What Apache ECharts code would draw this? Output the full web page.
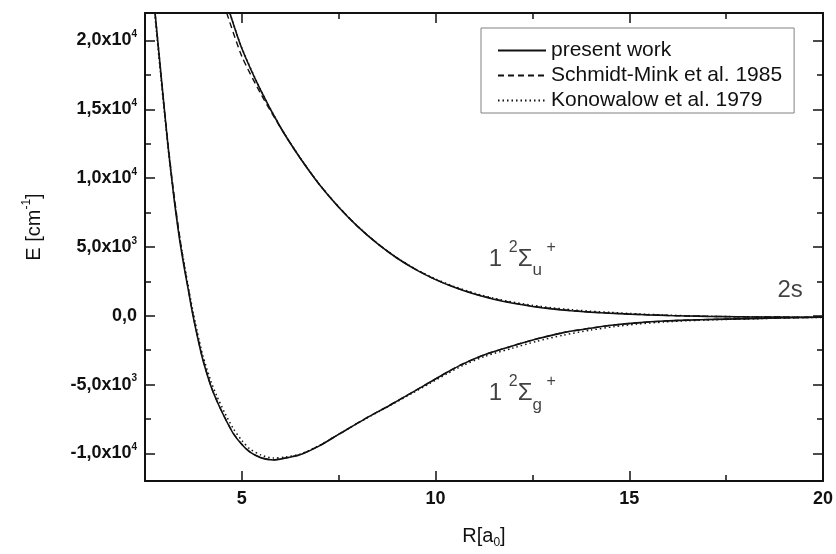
<!DOCTYPE html>
<html><head><meta charset="utf-8">
<script src="https://cdn.jsdelivr.net/npm/echarts@6/dist/echarts.min.js"></script>
<style>html,body{margin:0;padding:0;background:#fff}#c{width:836px;height:554px}</style>
</head><body><div id="c"></div>
<script>
// ---- axes ----
const xMin = 2.5, xMax = 20, yMin = -12000, yMax = 22000;
const xMajorTicks = [5, 10, 15, 20];
const xMinorTicks = [7.5, 12.5, 17.5];
const yMajorTicks = [-10000, -5000, 0, 5000, 10000, 15000, 20000];
const yMinorTicks = [-7500, -2500, 2500, 7500, 12500, 17500];
const yTickMantissa = ['-1,0', '-5,0', '0,0', '5,0', '1,0', '1,5', '2,0'];
const yTickExponent = ['4', '3', '', '3', '4', '4', '4'];

// ---- series names ----
const seriesNames = ['present work', 'Schmidt-Mink et al. 1985', 'Konowalow et al. 1979'];

// ---- present work ----
const R_present_g = [2.76, 2.9, 3.0, 3.1, 3.2, 3.3, 3.4, 3.5, 3.6, 3.74, 3.9, 4.0, 4.2, 4.35, 4.55, 4.78, 5.0, 5.2, 5.5, 5.81, 6.1, 6.5, 7.0, 7.53, 8.2, 8.81, 9.4, 9.85, 10.3, 10.7, 11.3, 12.0, 12.6, 13.3, 14.0, 14.6, 15.2, 15.9, 16.5, 17.2, 18.4, 19.2, 20.0];
const E_present_g = [22000, 17900, 15000, 12200, 9700, 7400, 5400, 3700, 2150, 0, -2100, -3260, -5100, -6150, -7350, -8560, -9350, -9880, -10320, -10470, -10350, -10100, -9450, -8560, -7450, -6510, -5560, -4830, -4100, -3510, -2800, -2180, -1690, -1220, -900, -670, -510, -380, -310, -255, -185, -140, -105];
const R_present_u = [4.69, 5.0, 5.5, 6.0, 6.5, 7.0, 7.5, 8.0, 8.5, 9.0, 9.5, 10.0, 10.5, 11.0, 11.5, 12.0, 12.5, 13.0, 13.5, 14.0, 14.5, 15.0, 15.5, 16.0, 16.5, 17.0, 17.5, 18.0, 19.0, 20.0];
const E_present_u = [22000, 19420, 16300, 13680, 11480, 9540, 7890, 6460, 5240, 4200, 3340, 2630, 2050, 1580, 1205, 910, 680, 505, 370, 268, 192, 125, 72, 28, -8, -38, -58, -73, -92, -105];

// ---- Schmidt-Mink et al. 1985 ----
const R_schmidt_g = [2.76, 2.9, 3.0, 3.1, 3.2, 3.3, 3.4, 3.5, 3.6, 3.74, 3.9, 4.0, 4.2, 4.35, 4.55, 4.78, 5.0, 5.2, 5.5, 5.81, 6.1, 6.5, 7.0, 7.53, 8.2, 8.81, 9.4, 9.85, 10.3, 10.7, 11.3, 12.0, 12.6, 13.3, 14.0, 14.6, 15.2, 15.9, 16.5, 17.2, 18.4, 19.2, 20.0];
const E_schmidt_g = [22000, 17950, 15050, 12350, 9900, 7700, 5650, 3850, 2250, 50, -2050, -3220, -5080, -6130, -7330, -8540, -9330, -9870, -10310, -10460, -10340, -10090, -9440, -8550, -7440, -6500, -5550, -4820, -4090, -3500, -2790, -2170, -1680, -1215, -895, -668, -508, -380, -310, -255, -185, -140, -105];
const R_schmidt_u = [4.61, 5.0, 5.5, 6.0, 6.5, 7.0, 7.5, 8.0, 8.5, 9.0, 9.5, 10.0, 10.5, 11.0, 11.5, 12.0, 12.5, 13.0, 13.5, 14.0, 14.5, 15.0, 15.5, 16.0, 16.5, 17.0, 17.5, 18.0, 19.0, 20.0];
const E_schmidt_u = [22000, 18850, 16070, 13660, 11480, 9550, 7900, 6470, 5250, 4210, 3350, 2640, 2060, 1600, 1230, 940, 700, 520, 380, 275, 195, 125, 72, 28, -8, -38, -58, -73, -92, -105];

// ---- Konowalow et al. 1979 ----
const R_konowalow_g = [2.76, 2.9, 3.0, 3.1, 3.2, 3.3, 3.4, 3.5, 3.6, 3.74, 3.9, 4.0, 4.2, 4.35, 4.55, 4.78, 5.0, 5.2, 5.5, 5.81, 6.1, 6.5, 7.0, 7.53, 8.2, 8.81, 9.4, 9.85, 10.3, 10.7, 11.3, 12.0, 12.6, 13.3, 14.0, 14.6, 15.2, 15.9, 16.5, 17.2, 18.4, 19.2, 20.0];
const E_konowalow_g = [21700, 17600, 14800, 12100, 9700, 7500, 5600, 4000, 2400, 300, -1800, -2950, -4750, -5800, -7000, -8200, -9050, -9650, -10120, -10330, -10270, -10050, -9420, -8560, -7470, -6540, -5620, -4910, -4200, -3620, -2920, -2340, -1860, -1400, -1040, -790, -600, -445, -355, -285, -200, -150, -110];
const R_konowalow_u = [4.69, 5.0, 5.5, 6.0, 6.5, 7.0, 7.5, 8.0, 8.5, 9.0, 9.5, 10.0, 10.5, 11.0, 11.5, 12.0, 12.5, 13.0, 13.5, 14.0, 14.5, 15.0, 15.5, 16.0, 16.5, 17.0, 17.5, 18.0, 19.0, 20.0];
const E_konowalow_u = [22000, 19450, 16320, 13700, 11500, 9560, 7910, 6480, 5260, 4230, 3380, 2680, 2110, 1650, 1280, 990, 765, 585, 445, 335, 250, 170, 105, 50, 5, -30, -55, -72, -92, -105];

// ---- annotations ----
const annotationX = [12.24, 12.24, 19.15];
const annotationY = [4110, -5670, 1840];
const annotationText = [
  '{big|1 }{sup2|2}{big|Σ}{sub2|u}{plus| +}',
  '{big|1 }{sup2|2}{big|Σ}{sub2|g}{plus| +}',
  '{plain|2s}'
];

const FONT = 'Liberation Sans, Arial, Helvetica, sans-serif';
const INK = '#111';
const zip = (xs, ys) => xs.map((x, i) => [x, ys[i]]);

const lineStyles = [
  { color: INK, width: 1.6, type: 'solid' },
  { color: INK, width: 1.4, type: [6, 4] },
  { color: INK, width: 1.5, type: [1.5, 3] }
];
const curves = [
  [R_present_g, E_present_g, R_present_u, E_present_u],
  [R_schmidt_g, E_schmidt_g, R_schmidt_u, E_schmidt_u],
  [R_konowalow_g, E_konowalow_g, R_konowalow_u, E_konowalow_u]
];

const series = [];
for (let k = 0; k < curves.length; k++) {
  const c = curves[k];
  [[c[0], c[1]], [c[2], c[3]]].forEach(pair => {
    series.push({
      name: seriesNames[k], type: 'line', xAxisIndex: 0, yAxisIndex: 0,
      data: zip(pair[0], pair[1]), showSymbol: false, symbol: 'none',
      smooth: 0.25, lineStyle: lineStyles[k], itemStyle: { color: INK },
      z: 5 - k, clip: true, emphasis: { disabled: true }
    });
  });
}
series.push({
  name: 'annotations', type: 'scatter', xAxisIndex: 0, yAxisIndex: 0,
  data: annotationX.map((x, i) => [x, annotationY[i]]),
  symbolSize: 0, silent: true,
  label: {
    show: true, position: 'inside',
    formatter: p => annotationText[p.dataIndex],
    rich: {
      big: { fontSize: 24, fontFamily: FONT, color: INK, lineHeight: 40 },
      sup2: { fontSize: 16, fontFamily: FONT, color: INK, lineHeight: 22, verticalAlign: 'top' },
      sub2: { fontSize: 17, fontFamily: FONT, color: INK, lineHeight: 14, verticalAlign: 'bottom' },
      plus: { fontSize: 16, fontFamily: FONT, color: INK, lineHeight: 12, verticalAlign: 'top' },
      plain: { fontSize: 24, fontFamily: FONT, color: INK, lineHeight: 28 }
    }
  }
});

const axisLineStyle = { show: true, onZero: false, lineStyle: { color: INK, width: 2 } };
const noLine = { show: false, onZero: false };
function xAxisDef(position, ticks, len, withLine, withLabels) {
  return {
    type: 'value', position, min: xMin, max: xMax, gridIndex: 0,
    axisLine: withLine ? axisLineStyle : noLine,
    axisTick: { show: true, inside: true, length: len, customValues: ticks, lineStyle: { color: INK, width: 1.5 } },
    axisLabel: withLabels ? {
      show: true, customValues: xMajorTicks, margin: 9,
      fontSize: 18, fontWeight: 'bold', fontFamily: FONT, color: INK,
      formatter: v => String(v)
    } : { show: false },
    splitLine: { show: false }, minorTick: { show: false }
  };
}
function yAxisDef(position, ticks, len, withLine, withLabels) {
  return {
    type: 'value', position, min: yMin, max: yMax, gridIndex: 0,
    axisLine: withLine ? axisLineStyle : noLine,
    axisTick: { show: true, inside: true, length: len, customValues: ticks, lineStyle: { color: INK, width: 1.5 } },
    axisLabel: withLabels ? {
      show: true, customValues: yMajorTicks, margin: 8,
      formatter: v => {
        const i = yMajorTicks.indexOf(v);
        if (i < 0) return '';
        return yTickExponent[i] ? '{b|' + yTickMantissa[i] + 'x10}{sup|' + yTickExponent[i] + '}' : '{b|' + yTickMantissa[i] + '}';
      },
      rich: {
        b: { fontSize: 18, fontWeight: 'bold', fontFamily: FONT, color: INK, lineHeight: 22 },
        sup: { fontSize: 10, fontWeight: 'bold', fontFamily: FONT, color: INK, lineHeight: 13, verticalAlign: 'top' }
      }
    } : { show: false },
    splitLine: { show: false }, minorTick: { show: false }
  };
}

const xAxes = [
  xAxisDef('bottom', xMajorTicks, 10, true, true),
  xAxisDef('bottom', xMinorTicks, 6, false, false),
  xAxisDef('top', xMajorTicks, 10, true, false),
  xAxisDef('top', xMinorTicks, 6, false, false)
];
xAxes[0].name = '{n|R[a}{sub|0}{n|]}';
xAxes[0].nameLocation = 'middle';
xAxes[0].nameGap = 42;
xAxes[0].nameTextStyle = {
  rich: {
    n: { fontSize: 20, fontFamily: FONT, color: INK, lineHeight: 26 },
    sub: { fontSize: 12, fontFamily: FONT, color: INK, lineHeight: 12, verticalAlign: 'bottom' }
  }
};
const yAxes = [
  yAxisDef('left', yMajorTicks, 10, true, true),
  yAxisDef('left', yMinorTicks, 6, false, false),
  yAxisDef('right', yMajorTicks, 10, true, false),
  yAxisDef('right', yMinorTicks, 6, false, false)
];
yAxes[0].name = '{n|E [cm}{sup|-1}{n|]}';
yAxes[0].nameLocation = 'middle';
yAxes[0].nameGap = 98;
yAxes[0].nameTextStyle = {
  padding: [0, 0, 0, 40],
  rich: {
    n: { fontSize: 20, fontFamily: FONT, color: INK, lineHeight: 26 },
    sup: { fontSize: 12, fontFamily: FONT, color: INK, lineHeight: 12, verticalAlign: 'top' }
  }
};

const chart = echarts.init(document.getElementById('c'), null, { renderer: 'canvas' });
chart.setOption({
  backgroundColor: '#fff',
  animation: false,
  grid: { left: 145, right: 11, top: 13, bottom: 70, containLabel: false },
  xAxis: xAxes,
  yAxis: yAxes,
  legend: {
    data: seriesNames, orient: 'vertical', left: 481, top: 28,
    itemWidth: 48, itemHeight: 14, itemGap: 0,
    padding: [10, 12, 0, 16],
    borderColor: '#808080', borderWidth: 1, backgroundColor: '#fff',
    itemStyle: { opacity: 0 },
    textStyle: { fontSize: 21, fontFamily: FONT, color: INK, lineHeight: 25 },
    selectedMode: false
  },
  series
});
</script>
</body></html>
